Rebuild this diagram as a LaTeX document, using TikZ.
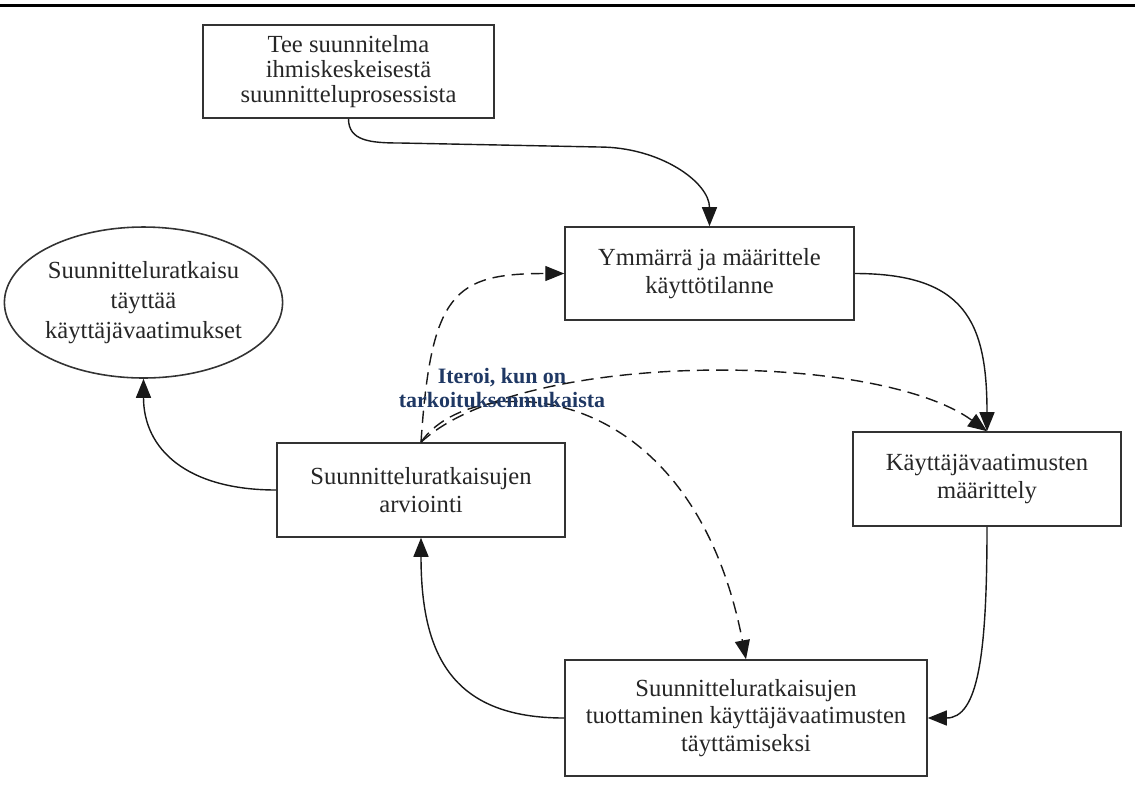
\documentclass[tikz,border=0pt]{standalone}
\usepackage{fontspec}
\setmainfont{Liberation Serif}
\usetikzlibrary{arrows.meta,shapes.geometric}
\definecolor{iterblue}{RGB}{31,56,100}

\begin{document}
\begin{tikzpicture}[
    x=0.02cm,y=-0.02cm,
    box/.style={draw=black!80,line width=0.9pt,rectangle,align=center,inner sep=0pt,
        text=black!85,font=\fontsize{14}{15.5}\selectfont},
    goalbox/.style={box,ellipse,font=\fontsize{14}{17}\selectfont},
    flow/.style={draw=black!90,line width=0.8pt,-{Triangle[length=0.38cm,width=0.3cm]}},
    iter/.style={flow,dash pattern=on 7pt off 4pt},
    lbl/.style={font=\fontsize{12.5}{14}\selectfont\bfseries,text=iterblue,align=center}
]
\useasboundingbox (0,0) rectangle (1135,789);

% rule at the top
\draw[line width=1.7pt] (0,5.5) -- (1135,5.5);

% activities
\node[box,minimum width=5.82cm,minimum height=1.86cm,font=\fontsize{14}{14}\selectfont] (plan) at (348.5,71.5)
    {Tee suunnitelma\\ihmiskeskeisestä\\suunnitteluprosessista};
\node[box,minimum width=5.78cm,minimum height=1.86cm] (context) at (709.5,273.5)
    {Ymmärrä ja määrittele\\käyttötilanne};
\node[box,minimum width=5.36cm,minimum height=1.88cm] (reqs) at (987,479)
    {Käyttäjävaatimusten\\määrittely};
\node[box,minimum width=7.24cm,minimum height=2.32cm] (produce) at (746,718)
    {Suunnitteluratkaisujen\\tuottaminen käyttäjävaatimusten\\täyttämiseksi};
\node[box,minimum width=5.76cm,minimum height=1.88cm] (evaluate) at (421,490)
    {Suunnitteluratkaisujen\\arviointi};
\node[goalbox,minimum width=5.38cm,minimum height=3.02cm] (goal) at (143.5,302.5)
    {Suunnitteluratkaisu\\täyttää\\käyttäjävaatimukset};

% main cycle
\draw[flow] (plan.south) .. controls +(0,22) and +(-30,0) .. (400,143)
    -- (599,147) .. controls +(61,0) and +(0,-44) .. (context.north);
\draw[flow] (context.east) .. controls +(110,0) and +(0,-110) .. (reqs.north);
\draw[flow] (reqs.south) .. controls +(0,130) and +(50,0) .. (produce.east);
\draw[flow] (produce.west) .. controls +(-110,0) and +(0,120) .. (evaluate.south);
\draw[flow] (evaluate.west) .. controls +(-90,0) and +(0,70) .. (goal.south);

% iteration
\draw[iter] (evaluate.north) .. controls +(10,-150) and +(-110,0) .. (context.west);
\draw[iter] (evaluate.north) .. controls (520,350) and (875,350) .. (reqs.north);
\draw[iter] (evaluate.north) .. controls (470,370) and (690,370) .. (produce.north);
\node[lbl] (iterlbl) at (502,388) {Iteroi, kun on\\tarkoituksenmukaista};

\end{tikzpicture}
\end{document}
